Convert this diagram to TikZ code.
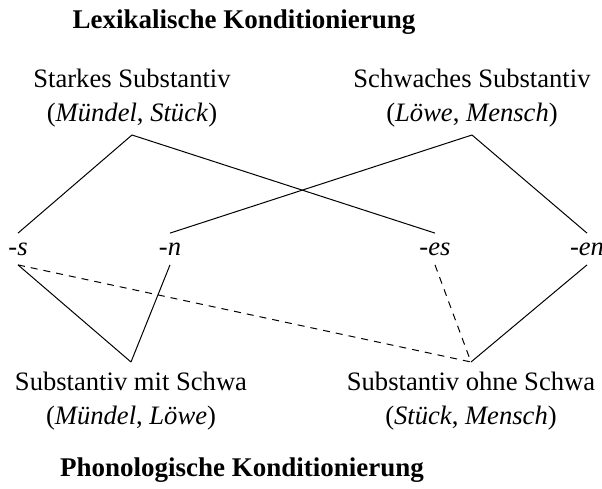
\documentclass[tikz,border=0pt]{standalone}
\usepackage{fontspec}
\setmainfont{Liberation Serif}
\begin{document}
\begin{tikzpicture}[x=0.5pt, y=-0.5pt, line width=0.5pt,
        font=\fontsize{13.3}{17}\selectfont,
        titel/.style={font=\fontsize{13.5}{17}\selectfont\bfseries, anchor=base, inner sep=0pt},
        oben/.style={align=center, anchor=south, inner xsep=0pt, inner ysep=3.7pt},
        unten/.style={align=center, anchor=north, inner xsep=0pt, inner ysep=4.9pt},
        endung/.style={font=\fontsize{13.3}{17}\selectfont\itshape, anchor=base,
            text height=6pt, text depth=0pt, inner xsep=0pt, inner ysep=4.7pt},
        gestrichelt/.style={dash pattern=on 3.5pt off 3pt}]
        \useasboundingbox (0,0) rectangle (602,489);

        % Ueberschriften
        \node[titel] (lex) at (244,28) {Lexikalische Konditionierung};
        \node[titel] (phon) at (242,476) {Phonologische Konditionierung};

        % Lexikalische Klassen
        \node[oben] (stark) at (132,135) {Starkes Substantiv\\(\textit{Mündel}, \textit{Stück})};
        \node[oben] (schwach) at (472,135) {Schwaches Substantiv\\(\textit{Löwe}, \textit{Mensch})};

        % Endungen
        \node[endung] (s) at (18,255) {-s};
        \node[endung] (n) at (170,255) {-n};
        \node[endung] (es) at (435,255) {-es};
        \node[endung] (en) at (587,255) {-en};

        % Phonologische Klassen
        \node[unten] (mit) at (131,362) {Substantiv mit Schwa\\(\textit{Mündel}, \textit{Löwe})};
        \node[unten] (ohne) at (471,362) {Substantiv ohne Schwa\\(\textit{Stück}, \textit{Mensch})};

        % Verbindungen
        \draw (stark.south) -- (s.north);
        \draw (stark.south) -- (es.north);
        \draw (schwach.south) -- (n.north);
        \draw (schwach.south) -- (en.north);
        \draw (s.south) -- (mit.north);
        \draw (n.south) -- (mit.north);
        \draw (en.south) -- (ohne.north);
        \draw[gestrichelt] (s.south) -- (ohne.north);
        \draw[gestrichelt] (es.south) -- (ohne.north);
    \end{tikzpicture}
\end{document}
